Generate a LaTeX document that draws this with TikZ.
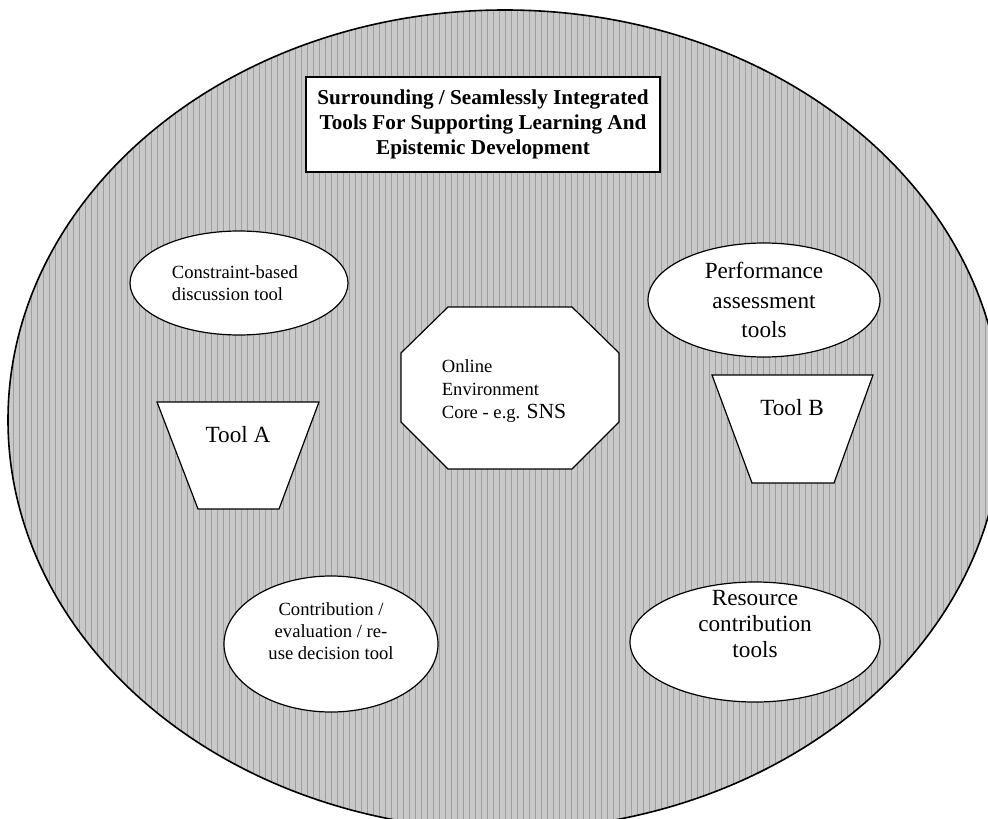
\documentclass[tikz,border=0pt]{standalone}
\usepackage{fontspec}
\setmainfont{Liberation Serif}
\usepackage{tikz}
\usetikzlibrary{shapes,patterns,positioning}

\begin{document}
\begin{tikzpicture}[x=0.5pt, y=-0.5pt,
    every node/.style={inner sep=0pt},
    tool/.style={draw, ellipse, fill=white, line width=0.6pt, align=center},
    shapeline/.style={draw, fill=white, line width=0.6pt}]
                \useasboundingbox (0,0) rectangle (988,818);
                % surrounding area
                \fill[gray!42] (505,420) ellipse [x radius=248.5pt, y radius=205pt];
                \fill[pattern=vertical lines, pattern color=gray!75] (505,420) ellipse [x radius=248.5pt, y radius=205pt];
                \draw[line width=0.8pt] (505,420) ellipse [x radius=248.5pt, y radius=205pt];

                \node[draw, rectangle, fill=white, line width=0.8pt, minimum width=177pt, minimum height=47.5pt, align=center,
                      font=\fontsize{10.6}{12.6}\selectfont\bfseries] (T) at (483,124.5)
                      {Surrounding / Seamlessly Integrated\\Tools For Supporting Learning And\\Epistemic Development};

                \node[tool, minimum width=109pt, minimum height=52pt] (D) at (239,283) {};
                \node[align=left, font=\fontsize{9.3}{10.8}\selectfont] (Dt) at (235,283) {Constraint-based\\discussion tool};

                \node[tool, minimum width=116pt, minimum height=57pt, font=\fontsize{11.6}{14.7}\selectfont] (P) at (764,300) {Performance\\assessment\\tools};

                % core
                \draw[shapeline] (448,307) -- (572,307) -- (619,353) -- (619,422) -- (572,469) -- (448,469) -- (401,422) -- (401,353) -- cycle;
                \node[align=left, font=\fontsize{9.3}{11.5}\selectfont] (O) at (504,391) {Online\\Environment\\Core - e.g. {\fontsize{10.8}{11.5}\selectfont SNS}};

                \draw[shapeline] (157,402) -- (319,402) -- (279,509) -- (198,509) -- cycle;
                \node[font=\fontsize{11.6}{14}\selectfont] (A) at (238,435) {Tool A};

                \draw[shapeline] (712,375) -- (873,375) -- (834,483) -- (752,483) -- cycle;
                \node[font=\fontsize{11.6}{14}\selectfont] (B) at (792,408) {Tool B};

                \node[tool, minimum width=107pt, minimum height=68pt] (C) at (331,644) {};
                \node[align=center, font=\fontsize{9.3}{11}\selectfont] (Ct) at (331,631) {Contribution /\\evaluation / re-\\use decision tool};

                \node[tool, minimum width=125pt, minimum height=60pt] (R) at (755,642) {};
                \node[align=center, font=\fontsize{11.6}{13}\selectfont] (Rt) at (755,624) {Resource\\contribution\\tools};
\end{tikzpicture}
\end{document}
